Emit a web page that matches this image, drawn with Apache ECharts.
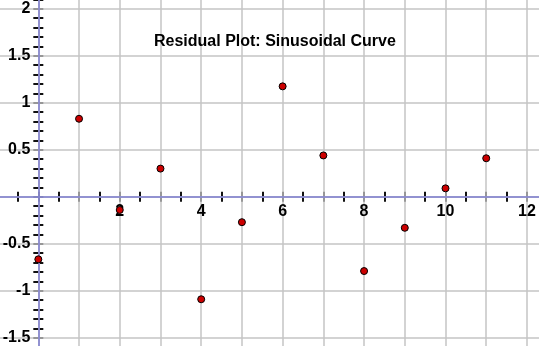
<!DOCTYPE html>
<html>
<head>
<meta charset="utf-8">
<script src="https://cdn.jsdelivr.net/npm/echarts@6/dist/echarts.min.js"></script>
<style>html,body{margin:0;padding:0;background:#fff;}#c{width:539px;height:346px;}</style>
</head>
<body>
<div id="c"></div>
<script>
const title = 'Residual Plot: Sinusoidal Curve';
const xValues = [0, 1, 2, 3, 4, 5, 6, 7, 8, 9, 10, 11];
const residuals = [-0.665, 0.83, -0.14, 0.30, -1.09, -0.27, 1.175, 0.44, -0.79, -0.33, 0.09, 0.41];
const xTickLabels = [2, 4, 6, 8, 10, 12];
const yTickLabels = [-1.5, -1, -0.5, 0.5, 1, 1.5, 2];

const font = '"Liberation Sans", Arial, sans-serif';
const axisBlue = '#7c7cd0';
const gridGray = '#c4c4c4';
const tickColor = '#111';

// Plot geometry (view window of the reference)
const X_MIN = -1, X_MAX = 12.5, Y_MIN = -2, Y_MAX = 2.5;
const GRID = {left: -2.4, right: -8.3, top: -38.2, bottom: -38.8};
const W = 539, H = 346;
const gw = W - GRID.left - GRID.right, gh = H - GRID.top - GRID.bottom;
// offsets that put the axes through the origin
const xAxisOffset = -((0 - Y_MIN) / (Y_MAX - Y_MIN)) * gh;
const yAxisOffset = -((0 - X_MIN) / (X_MAX - X_MIN)) * gw;

const chart = echarts.init(document.getElementById('c'), null, {renderer: 'canvas'});

function tickAxis(dim, min, max, interval, inside) {
  return {
    type: 'value', min: min, max: max, interval: interval,
    position: dim === 'x' ? 'bottom' : 'left',
    offset: dim === 'x' ? xAxisOffset : yAxisOffset,
    axisLine: {show: false, onZero: false},
    axisTick: {show: true, inside: inside, length: 5, lineStyle: {color: tickColor, width: 2}},
    axisLabel: {show: false},
    splitLine: {show: false}
  };
}

const option = {
  animation: false,
  backgroundColor: '#fff',
  title: {
    text: title, left: 154, top: 34, padding: 0,
    textStyle: {fontFamily: font, fontSize: 16, fontWeight: 'bold', color: '#000'}
  },
  grid: {left: GRID.left, right: GRID.right, top: GRID.top, bottom: GRID.bottom, containLabel: false, outerBoundsMode: 'none'},
  xAxis: [
    {
      type: 'value', min: X_MIN, max: X_MAX, interval: 1,
      position: 'bottom', offset: xAxisOffset,
      axisLine: {show: true, onZero: false, lineStyle: {color: axisBlue, width: 1.5}},
      axisTick: {show: false},
      axisLabel: {
        margin: 7, fontFamily: font, fontSize: 16, fontWeight: 'bold', color: '#000',
        formatter: v => xTickLabels.indexOf(v) >= 0 ? String(v) : ''
      },
      splitLine: {show: true, lineStyle: {color: gridGray, width: 1.5}},
      z: 1
    },
    tickAxis('x', X_MIN, X_MAX, 0.5, true),
    tickAxis('x', X_MIN, X_MAX, 0.5, false)
  ],
  yAxis: [
    {
      type: 'value', min: Y_MIN, max: Y_MAX, interval: 0.5,
      position: 'left', offset: yAxisOffset,
      axisLine: {show: true, onZero: false, lineStyle: {color: axisBlue, width: 1.5}},
      axisTick: {show: false},
      axisLabel: {
        margin: 8, fontFamily: font, fontSize: 16, fontWeight: 'bold', color: '#000',
        formatter: v => yTickLabels.some(t => Math.abs(t - v) < 1e-9) ? String(v) : ''
      },
      splitLine: {show: true, lineStyle: {color: gridGray, width: 1.5}},
      z: 1
    },
    tickAxis('y', Y_MIN, Y_MAX, 0.1, true),
    tickAxis('y', Y_MIN, Y_MAX, 0.1, false)
  ],
  series: [{
    type: 'scatter',
    xAxisIndex: 0, yAxisIndex: 0,
    data: xValues.map((x, i) => [x, residuals[i]]),
    symbol: 'circle', symbolSize: 7,
    itemStyle: {color: '#cc0000', borderColor: '#000', borderWidth: 1, opacity: 1},
    z: 5
  }]
};
chart.setOption(option);
</script>
</body>
</html>
